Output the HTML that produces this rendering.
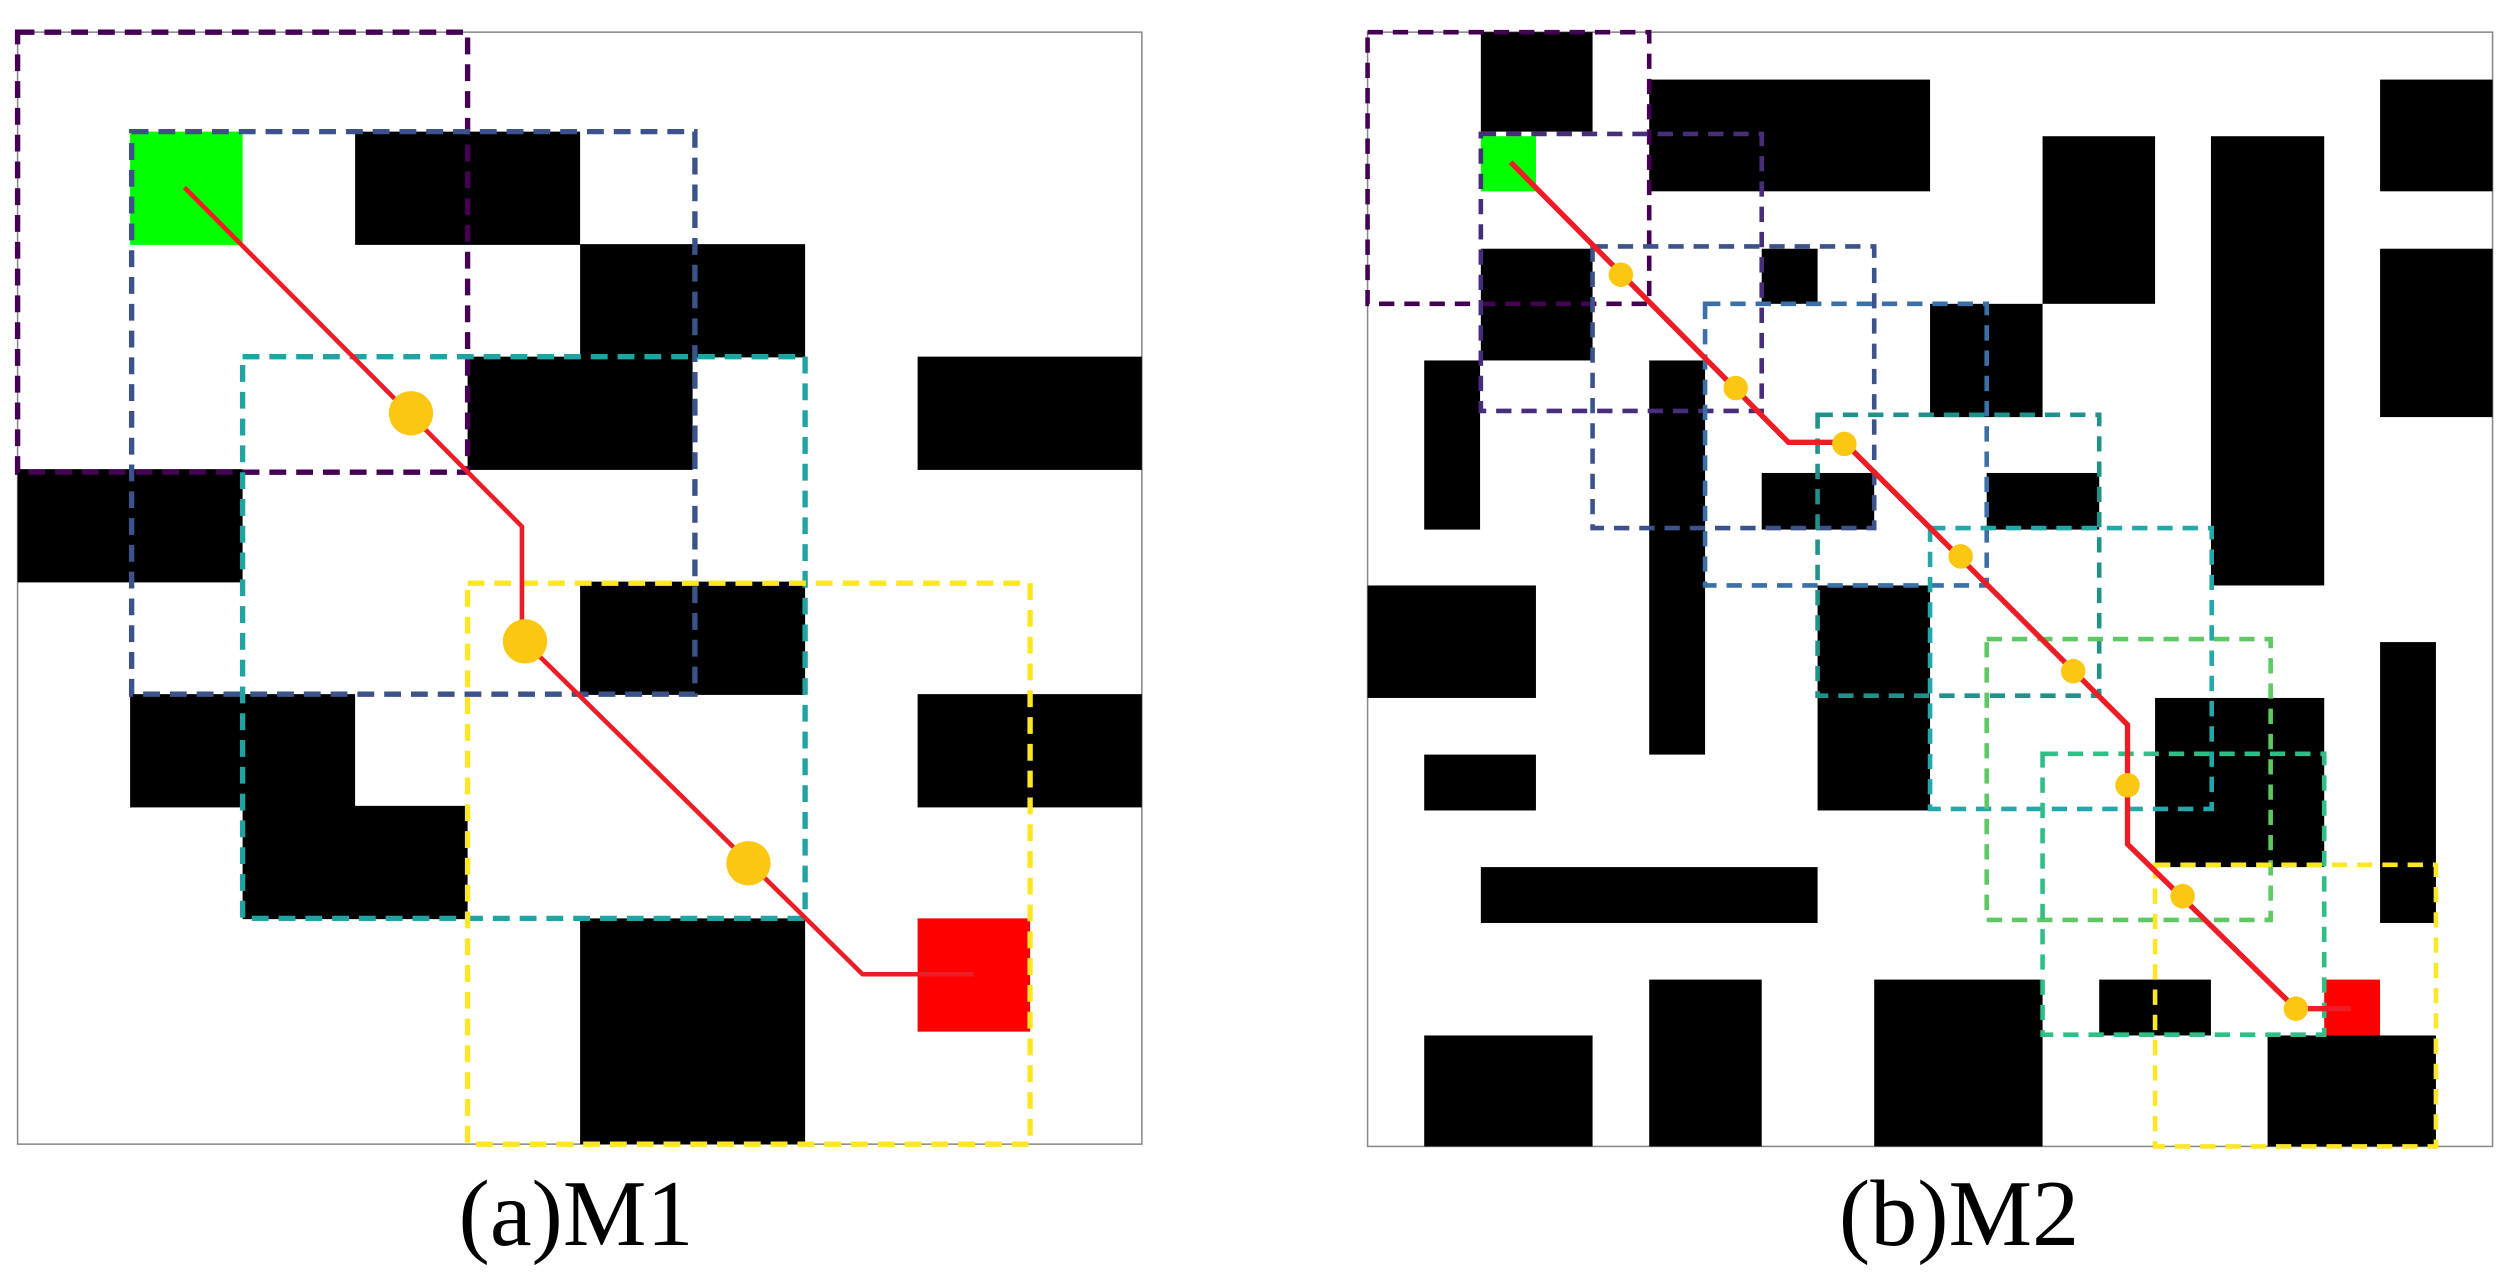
<!DOCTYPE html>
<html><head><meta charset="utf-8"><style>html,body{margin:0;padding:0;background:#fff}svg{display:block}</style></head>
<body>
<svg width="2514" height="1288" viewBox="0 0 2514 1288" xmlns="http://www.w3.org/2000/svg">
<rect width="2514" height="1288" fill="#fff"/>
<g transform="scale(0.76531)">
 <rect x="23" y="42" width="1469" height="1453" fill="#fff" stroke="#888" stroke-width="2"/>
 <g fill="#000">
  <rect x="464" y="172" width="294" height="148"/>
  <rect x="758" y="319" width="294" height="148"/>
  <rect x="611" y="466" width="294" height="148"/>
  <rect x="1199" y="466" width="293" height="148"/>
  <rect x="23" y="613" width="294" height="148"/>
  <rect x="758" y="760" width="294" height="148"/>
  <rect x="170" y="907" width="294" height="148"/>
  <rect x="1199" y="907" width="293" height="148"/>
  <rect x="317" y="1053" width="294" height="148"/>
  <rect x="758" y="1200" width="294" height="295"/>
 </g>
 <rect x="170" y="172" width="147" height="148" fill="#00ff00"/>
 <rect x="1199" y="1200" width="147" height="148" fill="#ff0000"/>
 <g fill="none" stroke-width="7" stroke-dasharray="22 13">
  <rect x="23" y="42" width="588" height="575" stroke="#440154"/>
  <rect x="172" y="172" width="736" height="735" stroke="#3b528b"/>
  <rect x="317" y="466" width="735" height="734" stroke="#21a3a3"/>
  <rect x="611" y="762" width="735" height="733" stroke="#fde725"/>
 </g>
 <polyline points="241,245 682,688 682,835 1127,1273 1272,1273" fill="none" stroke="#ee1c25" stroke-width="6"/>
 <g fill="#fcc712"><circle cx="537" cy="540" r="29"/><circle cx="686" cy="838" r="29"/><circle cx="978" cy="1128" r="29"/></g>
</g>
<g transform="translate(1314,0) scale(0.76531)">
 <rect x="70" y="42" width="1470" height="1456" fill="#fff" stroke="#888" stroke-width="2"/>
 <g fill="#000">
  <rect x="218" y="42" width="146" height="130"/>
  <rect x="438" y="104" width="367" height="146"/>
  <rect x="952" y="178" width="147" height="219"/>
  <rect x="1172" y="178" width="148" height="587"/>
  <rect x="1393" y="104" width="147" height="146"/>
  <rect x="1393" y="325" width="147" height="220"/>
  <rect x="218" y="325" width="146" height="146"/>
  <rect x="585" y="325" width="73" height="72"/>
  <rect x="805" y="397" width="147" height="148"/>
  <rect x="144" y="471" width="73" height="221"/>
  <rect x="438" y="471" width="73" height="515"/>
  <rect x="585" y="618" width="147" height="74"/>
  <rect x="879" y="618" width="147" height="74"/>
  <rect x="70" y="765" width="220" height="147"/>
  <rect x="658" y="765" width="147" height="294"/>
  <rect x="144" y="986" width="146" height="73"/>
  <rect x="1099" y="912" width="221" height="221"/>
  <rect x="1393" y="839" width="73" height="367"/>
  <rect x="218" y="1133" width="440" height="73"/>
  <rect x="438" y="1280" width="147" height="218"/>
  <rect x="732" y="1280" width="220" height="218"/>
  <rect x="1026" y="1280" width="146" height="73"/>
  <rect x="144" y="1353" width="220" height="145"/>
  <rect x="1246" y="1353" width="220" height="145"/>
 </g>
 <rect x="218" y="178" width="72" height="72" fill="#00ff00"/>
 <rect x="1320" y="1280" width="73" height="73" fill="#ff0000"/>
 <g fill="none" stroke-width="6" stroke-dasharray="20 13">
  <rect x="70" y="42" width="368" height="355" stroke="#440154"/>
  <rect x="218" y="175" width="367" height="362" stroke="#472d7b"/>
  <rect x="364" y="322" width="368" height="368" stroke="#3b528b"/>
  <rect x="511" y="397" width="368" height="368" stroke="#3b6fa8"/>
  <rect x="658" y="542" width="368" height="367" stroke="#21918c"/>
  <rect x="805" y="690" width="368" height="367" stroke="#22a8a8"/>
  <rect x="879" y="835" width="371" height="367" stroke="#5ec962"/>
  <rect x="952" y="985" width="368" height="367" stroke="#2fbf86"/>
  <rect x="1099" y="1130" width="367" height="368" stroke="#fde725"/>
 </g>
 <polyline points="257,212 620,578 693,578 1063,947 1063,1103 1283,1318 1355,1318" fill="none" stroke="#ee1c25" stroke-width="7"/>
 <g fill="#fcc712">
  <circle cx="401" cy="359" r="16"/><circle cx="551" cy="507" r="16"/><circle cx="693" cy="580" r="16"/><circle cx="845" cy="727" r="16"/>
  <circle cx="992" cy="877" r="16"/><circle cx="1063" cy="1026" r="16"/><circle cx="1135" cy="1171" r="16"/><circle cx="1283" cy="1318" r="16"/>
 </g>
</g>
<g font-family="Liberation Serif, serif" font-size="94" fill="#000" text-anchor="middle">
 <text x="576" y="1245">(a)M1</text>
 <text x="1959" y="1245">(b)M2</text>
</g>
</svg>
</body></html>
